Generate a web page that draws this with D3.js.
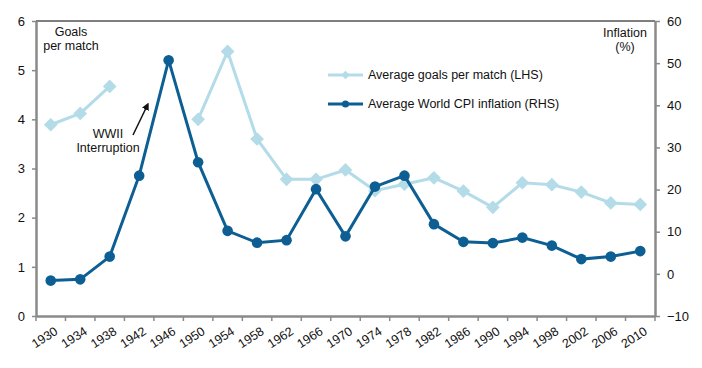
<!DOCTYPE html>
<html>
<head>
<meta charset="utf-8">
<script src="https://cdn.jsdelivr.net/npm/d3@7"></script>
<style>
  body { margin: 0; background: #fff; }
  svg text { font-family: "Liberation Sans", Arial, sans-serif; fill: #111; }
</style>
</head>
<body>
<svg id="chart" width="702" height="368"></svg>
<script>
// World Cup years (every 4 years, 1942/1946 have no tournament)
const YEARS = [1930,1934,1938,1942,1946,1950,1954,1958,1962,1966,1970,1974,1978,1982,1986,1990,1994,1998,2002,2006,2010];
// average goals per match (LHS) - null where no tournament was played
const GOALS = [3.89,4.12,4.67,null,null,4.00,5.38,3.60,2.78,2.78,2.97,2.55,2.68,2.81,2.54,2.21,2.71,2.67,2.52,2.30,2.27];
// average world CPI inflation, % (RHS)
const INFLATION = [-1.6,-1.3,4.1,23.3,50.7,26.5,10.2,7.4,8.0,20.1,8.9,20.7,23.3,11.8,7.6,7.3,8.6,6.7,3.5,4.1,5.4];
const LEFT_TICKS = [0,1,2,3,4,5,6];
const RIGHT_TICKS = [-10,0,10,20,30,40,50,60];

const LIGHT = "#b3dce8", DARK = "#0d5f93", AXIS = "#8a8a8a";
const m = { left: 36, right: 655, top: 21, bottom: 316 };

const svg = d3.select("#chart");

const x = d3.scaleBand().domain(YEARS).range([m.left, m.right]);
const yL = d3.scaleLinear().domain([0, 6]).range([m.bottom, m.top]);
const yR = d3.scaleLinear().domain([-10, 60]).range([m.bottom, m.top]);
const cx = d => x(d) + x.bandwidth() / 2;

// frame: top border, left/right/bottom axes
svg.append("line").attr("x1", m.left).attr("x2", m.right).attr("y1", m.top).attr("y2", m.top)
   .attr("stroke", "#555").attr("stroke-width", 1.5);

const leftAx = svg.append("g").attr("transform", `translate(${m.left},0)`)
   .call(d3.axisLeft(yL).tickValues(LEFT_TICKS).tickFormat(d3.format("d"))
         .tickSize(4).tickPadding(7).tickSizeOuter(0));
const rightAx = svg.append("g").attr("transform", `translate(${m.right},0)`)
   .call(d3.axisRight(yR).tickValues(RIGHT_TICKS).tickSize(5).tickPadding(7).tickSizeOuter(0));
const bottomAx = svg.append("g").attr("transform", `translate(0,${m.bottom})`)
   .call(d3.axisBottom(x).tickSize(0).tickFormat(""));

[leftAx, rightAx, bottomAx].forEach(g => {
  g.select(".domain").attr("stroke", AXIS).attr("stroke-width", 2.5);
  g.selectAll(".tick line").attr("stroke", AXIS).attr("stroke-width", 1.5);
  g.selectAll("text").attr("font-size", 13).attr("fill", "#111")
   .attr("font-family", "Liberation Sans, Arial, sans-serif");
});

// x ticks sit at band boundaries
const bounds = YEARS.map(d => x(d)).concat([m.right]);
svg.append("g").selectAll("line").data(bounds).join("line")
   .attr("x1", d => d).attr("x2", d => d).attr("y1", m.bottom).attr("y2", m.bottom + 5)
   .attr("stroke", AXIS).attr("stroke-width", 1.5);

// rotated year labels
svg.append("g").selectAll("text").data(YEARS).join("text")
   .attr("transform", d => `translate(${cx(d) + 3},${m.bottom + 10}) rotate(-33)`)
   .attr("text-anchor", "end").attr("dy", "0.71em").attr("font-size", 12.5)
   .text(d => d);

// goals line (broken where there was no World Cup)
const goalPts = YEARS.map((yr, i) => ({ yr, v: GOALS[i] }));
svg.append("path").datum(goalPts)
   .attr("fill", "none").attr("stroke", LIGHT).attr("stroke-width", 3)
   .attr("d", d3.line().defined(d => d.v != null).x(d => cx(d.yr)).y(d => yL(d.v)));
svg.append("g").selectAll("path").data(goalPts.filter(d => d.v != null)).join("path")
   .attr("transform", d => `translate(${cx(d.yr)},${yL(d.v)})`)
   .attr("d", d3.symbol(d3.symbolDiamond2, 120)).attr("fill", LIGHT);

// inflation line
const infPts = YEARS.map((yr, i) => ({ yr, v: INFLATION[i] }));
svg.append("path").datum(infPts)
   .attr("fill", "none").attr("stroke", DARK).attr("stroke-width", 3)
   .attr("d", d3.line().x(d => cx(d.yr)).y(d => yR(d.v)));
svg.append("g").selectAll("circle").data(infPts).join("circle")
   .attr("cx", d => cx(d.yr)).attr("cy", d => yR(d.v)).attr("r", 5.3).attr("fill", DARK);

// axis titles
const titleL = svg.append("text").attr("x", 71).attr("y", 36).attr("text-anchor", "middle").attr("font-size", 12.5);
titleL.append("tspan").attr("x", 71).text("Goals");
titleL.append("tspan").attr("x", 71).attr("dy", 14).text("per match");
const titleR = svg.append("text").attr("x", 625).attr("y", 37).attr("text-anchor", "middle").attr("font-size", 12.5);
titleR.append("tspan").attr("x", 625).text("Inflation");
titleR.append("tspan").attr("x", 625).attr("dy", 14).text("(%)");

// legend
const legend = [
  { label: "Average goals per match (LHS)", color: LIGHT, sym: "diamond" },
  { label: "Average World CPI inflation (RHS)", color: DARK, sym: "circle" }
];
const lg = svg.append("g").selectAll("g").data(legend).join("g")
   .attr("transform", (d, i) => `translate(328,${75 + i * 29})`);
lg.append("line").attr("x1", 0).attr("x2", 35).attr("stroke", d => d.color).attr("stroke-width", 3);
lg.append("path").attr("transform", "translate(17.5,0)")
   .attr("d", d => d.sym === "diamond" ? d3.symbol(d3.symbolDiamond2, 45)() : d3.symbol(d3.symbolCircle, 40)())
   .attr("fill", d => d.color);
lg.append("text").attr("x", 40).attr("dy", "0.35em").attr("font-size", 12.5).text(d => d.label);

// WWII annotation
svg.append("defs").append("marker").attr("id", "arr").attr("viewBox", "0 0 10 10")
   .attr("refX", 5).attr("refY", 5).attr("markerWidth", 5).attr("markerHeight", 5).attr("orient", "auto")
   .append("path").attr("d", "M0,0L10,5L0,10z").attr("fill", "#111");
svg.append("line").attr("x1", 133).attr("y1", 135).attr("x2", 147).attr("y2", 106)
   .attr("stroke", "#111").attr("stroke-width", 1.5).attr("marker-end", "url(#arr)");
const ann = svg.append("text").attr("text-anchor", "middle").attr("font-size", 12.5);
ann.append("tspan").attr("x", 108).attr("y", 138).text("WWII");
ann.append("tspan").attr("x", 108).attr("y", 152).text("Interruption");
</script>
</body>
</html>
